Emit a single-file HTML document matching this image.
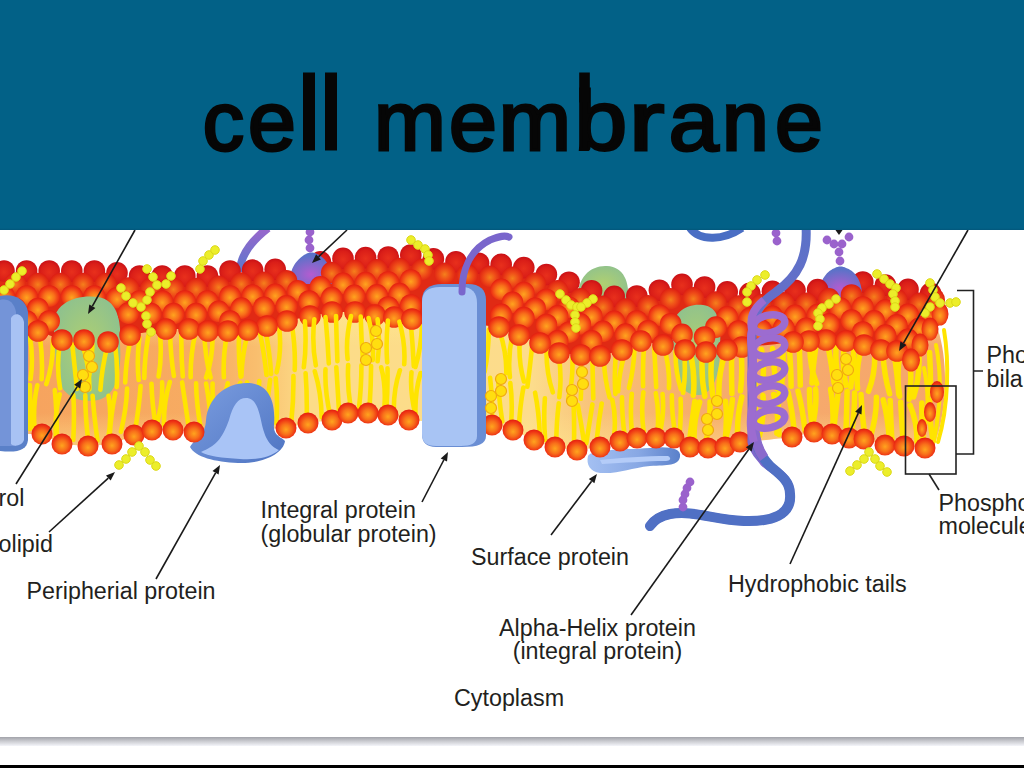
<!DOCTYPE html>
<html><head><meta charset="utf-8"><style>
html,body{margin:0;padding:0;background:#fff;width:1024px;height:768px;overflow:hidden}
#hdr{position:absolute;left:0;top:0;width:1024px;height:230px;background:linear-gradient(#026187 0,#026187 228px,#02567B 230px);}
#bar{position:absolute;left:0;top:737px;width:1024px;height:9px;background:linear-gradient(#A2A3AA,#C9CACF 45%,#F4F5FA)}
#blk{position:absolute;left:0;top:765px;width:1024px;height:3px;background:#000}
svg{position:absolute;left:0;top:0}
</style></head><body>
<svg width="1024" height="768" viewBox="0 0 1024 768">
<defs>
<radialGradient id="sph" cx="50%" cy="55%" r="55%" fx="50%" fy="58%">
<stop offset="0" stop-color="#FFA41E"/><stop offset="0.45" stop-color="#F8701A"/><stop offset="0.82" stop-color="#EE3414"/><stop offset="1" stop-color="#E21E10"/></radialGradient>
<radialGradient id="sphr" cx="50%" cy="55%" r="55%">
<stop offset="0" stop-color="#E8301C"/><stop offset="0.7" stop-color="#DA1E18"/><stop offset="1" stop-color="#C81016"/></radialGradient>
<radialGradient id="sphm" cx="50%" cy="55%" r="55%">
<stop offset="0" stop-color="#F5801C"/><stop offset="0.5" stop-color="#EE4A18"/><stop offset="1" stop-color="#DC1C12"/></radialGradient>
<linearGradient id="tailbg" gradientUnits="userSpaceOnUse" x1="0" y1="0" x2="1024" y2="0">
<stop offset="0" stop-color="#F6A25E"/><stop offset="0.2" stop-color="#F7AC62"/><stop offset="0.25" stop-color="#F9BE6E"/><stop offset="0.3" stop-color="#FCDC88"/><stop offset="0.52" stop-color="#FCDC8C"/><stop offset="0.58" stop-color="#F8C27A"/><stop offset="0.68" stop-color="#F6AC6C"/><stop offset="1" stop-color="#F5A46C"/></linearGradient>
<linearGradient id="glow" x1="0" y1="0" x2="0" y2="1">
<stop offset="0" stop-color="#FFE890" stop-opacity="0.9"/><stop offset="0.3" stop-color="#FFE890" stop-opacity="0"/><stop offset="0.75" stop-color="#FFE890" stop-opacity="0"/><stop offset="1" stop-color="#FFE890" stop-opacity="0.6"/></linearGradient>
<linearGradient id="blueprot" x1="0" y1="0" x2="1" y2="1">
<stop offset="0" stop-color="#7C9EE0"/><stop offset="1" stop-color="#4E74C2"/></linearGradient>
<linearGradient id="surfprot" x1="0" y1="0" x2="1" y2="0">
<stop offset="0" stop-color="#A4C0F2"/><stop offset="0.55" stop-color="#88A8E4"/><stop offset="1" stop-color="#5A80CA"/></linearGradient>
<radialGradient id="glyco" cx="50%" cy="70%" r="60%">
<stop offset="0" stop-color="#B45CD0"/><stop offset="1" stop-color="#5C72C8"/></radialGradient>
<radialGradient id="green" cx="50%" cy="50%" r="60%">
<stop offset="0" stop-color="#B0D070"/><stop offset="1" stop-color="#8CC090"/></radialGradient>
<linearGradient id="stalk" x1="0" y1="1" x2="0" y2="0">
<stop offset="0" stop-color="#5A78CC"/><stop offset="1" stop-color="#9A66CC"/></linearGradient>
<linearGradient id="ribbon" x1="0" y1="0" x2="0" y2="1">
<stop offset="0" stop-color="#5A72C8"/><stop offset="1" stop-color="#8A64CC"/></linearGradient>
</defs><path d="M26.0,321.0 L30.0,321.0 L34.0,321.0 L38.0,321.0 L42.0,322.5 L46.0,324.0 L50.0,325.5 L54.0,327.0 L58.0,328.5 L62.0,330.0 L66.0,330.0 L70.0,330.0 L74.0,330.0 L78.0,330.0 L82.0,330.0 L86.0,330.2 L90.0,330.5 L94.0,330.8 L98.0,331.2 L102.0,331.5 L106.0,331.8 L110.0,331.4 L114.0,330.1 L118.0,328.8 L122.0,327.5 L126.0,326.3 L130.0,325.0 L134.0,324.3 L138.0,323.7 L142.0,323.0 L146.0,322.3 L150.0,321.7 L154.0,321.0 L158.0,320.3 L162.0,319.7 L166.0,319.0 L170.0,319.0 L174.0,319.0 L178.0,319.0 L182.0,319.0 L186.0,319.0 L190.0,319.1 L194.0,319.5 L198.0,319.9 L202.0,320.4 L206.0,320.8 L210.0,321.0 L214.0,321.0 L218.0,321.0 L222.0,321.0 L226.0,321.0 L230.0,320.9 L234.0,320.7 L238.0,320.5 L242.0,320.3 L246.0,320.1 L250.0,319.6 L254.0,318.7 L258.0,317.9 L262.0,317.1 L266.0,316.2 L270.0,315.2 L274.0,314.2 L278.0,313.2 L282.0,312.2 L286.0,311.2 L290.0,310.3 L294.0,309.5 L298.0,308.6 L302.0,307.7 L306.0,306.9 L310.0,306.0 L314.0,305.3 L318.0,304.5 L322.0,303.8 L326.0,303.1 L330.0,302.4 L334.0,302.0 L338.0,302.0 L342.0,302.0 L346.0,302.0 L350.0,302.0 L354.0,302.0 L358.0,302.4 L362.0,303.1 L366.0,303.6 L370.0,304.2 L374.0,304.9 L378.0,305.3 L382.0,305.7 L386.0,306.2 L390.0,306.6 L394.0,307.0 L398.0,307.4 L402.0,307.9 L406.0,308.3 L410.0,308.8 L414.0,309.2 L418.0,309.6 L422.0,310.1 L426.0,310.5 L430.0,310.9 L434.0,311.4 L438.0,311.8 L442.0,312.1 L446.0,312.4 L450.0,312.7 L454.0,312.9 L458.0,313.2 L462.0,313.5 L466.0,313.7 L470.0,314.0 L474.0,314.4 L478.0,314.9 L482.0,315.3 L486.0,315.7 L490.0,316.1 L494.0,316.6 L498.0,317.0 L502.0,318.5 L506.0,320.0 L510.0,321.6 L514.0,323.1 L518.0,324.6 L522.0,326.1 L526.0,327.7 L530.0,329.2 L534.0,330.7 L538.0,332.2 L542.0,334.1 L546.0,336.3 L550.0,338.6 L554.0,340.8 L558.0,343.0 L562.0,343.4 L566.0,343.7 L570.0,344.1 L574.0,344.5 L578.0,344.8 L582.0,345.1 L586.0,345.3 L590.0,345.5 L594.0,345.7 L598.0,345.9 L602.0,345.5 L606.0,344.4 L610.0,343.3 L614.0,342.2 L618.0,341.1 L622.0,340.0 L626.0,338.1 L630.0,336.2 L634.0,334.3 L638.0,332.4 L642.0,331.2 L646.0,331.9 L650.0,332.6 L654.0,333.4 L658.0,334.1 L662.0,334.8 L666.0,335.7 L670.0,336.6 L674.0,337.5 L678.0,338.4 L682.0,339.3 L686.0,340.1 L690.0,340.5 L694.0,340.9 L698.0,341.2 L702.0,341.6 L706.0,342.0 L710.0,341.6 L714.0,341.2 L718.0,340.9 L722.0,340.5 L726.0,340.1 L730.0,339.4 L734.0,338.6 L738.0,337.8 L742.0,337.0 L746.0,336.7 L750.0,336.4 L754.0,336.1 L758.0,335.8 L762.0,335.5 L766.0,335.2 L770.0,334.8 L774.0,334.3 L778.0,333.8 L782.0,333.3 L786.0,332.8 L790.0,332.4 L794.0,331.9 L798.0,331.7 L802.0,331.4 L806.0,331.2 L810.0,330.9 L814.0,330.7 L818.0,330.5 L822.0,330.2 L826.0,330.0 L830.0,330.2 L834.0,330.4 L838.0,330.6 L842.0,330.8 L846.0,331.0 L850.0,331.9 L854.0,332.8 L858.0,333.7 L862.0,334.6 L866.0,335.6 L870.0,336.8 L874.0,337.9 L878.0,339.1 L882.0,340.1 L886.0,340.3 L890.0,340.6 L894.0,340.8 L898.0,341.6 L902.0,344.1 L906.0,346.5 L910.0,349.0 L914.0,346.8 L918.0,344.5 L922.0,342.3 L926.0,340.0 L930.0,337.8 L938,330 C948,360 948,410 934,446 L930.0,446.0 L926.0,447.6 L922.0,447.7 L918.0,447.3 L914.0,447.0 L910.0,446.6 L906.0,446.2 L902.0,445.9 L898.0,445.7 L894.0,445.5 L890.0,445.3 L886.0,445.1 L882.0,444.1 L878.0,443.0 L874.0,441.9 L870.0,440.7 L866.0,439.6 L862.0,438.9 L858.0,438.6 L854.0,438.3 L850.0,438.1 L846.0,437.3 L842.0,436.4 L838.0,435.4 L834.0,434.5 L830.0,433.8 L826.0,433.3 L822.0,432.9 L818.0,432.4 L814.0,432.0 L810.0,432.9 L806.0,433.8 L802.0,434.7 L798.0,435.6 L794.0,436.5 L790.0,437.2 L786.0,437.7 L782.0,438.2 L778.0,438.6 L774.0,439.1 L770.0,439.5 L766.0,440.0 L762.0,440.3 L758.0,440.6 L754.0,440.9 L750.0,441.2 L746.0,441.5 L742.0,441.8 L738.0,442.7 L734.0,444.0 L730.0,445.3 L726.0,446.7 L722.0,447.2 L718.0,447.4 L714.0,447.6 L710.0,447.9 L706.0,447.9 L702.0,447.7 L698.0,447.4 L694.0,447.2 L690.0,447.0 L686.0,444.8 L682.0,442.5 L678.0,440.2 L674.0,438.0 L670.0,438.0 L666.0,438.0 L662.0,438.0 L658.0,438.0 L654.0,438.0 L650.0,438.0 L646.0,438.0 L642.0,438.0 L638.0,438.0 L634.0,438.5 L630.0,439.2 L626.0,439.9 L622.0,440.6 L618.0,441.6 L614.0,442.8 L610.0,444.0 L606.0,445.2 L602.0,446.4 L598.0,447.3 L594.0,447.8 L590.0,448.3 L586.0,448.8 L582.0,449.3 L578.0,449.9 L574.0,449.7 L570.0,449.4 L566.0,449.0 L562.0,448.7 L558.0,448.3 L554.0,448.0 L550.0,446.4 L546.0,444.8 L542.0,443.2 L538.0,441.6 L534.0,440.0 L530.0,438.1 L526.0,436.2 L522.0,434.3 L518.0,432.4 L514.0,430.5 L510.0,429.3 L506.0,428.3 L502.0,427.4 L498.0,426.4 L494.0,425.5 L490.0,424.9 L486.0,424.7 L482.0,424.5 L478.0,424.3 L474.0,424.1 L470.0,424.0 L466.0,423.8 L462.0,423.6 L458.0,423.4 L454.0,423.2 L450.0,423.0 L446.0,422.7 L442.0,422.4 L438.0,422.1 L434.0,421.8 L430.0,421.5 L426.0,421.2 L422.0,421.0 L418.0,420.7 L414.0,420.4 L410.0,420.1 L406.0,419.3 L402.0,418.3 L398.0,417.4 L394.0,416.4 L390.0,415.5 L386.0,414.8 L382.0,414.4 L378.0,414.0 L374.0,413.6 L370.0,413.2 L366.0,413.0 L362.0,413.0 L358.0,413.0 L354.0,413.0 L350.0,413.0 L346.0,413.9 L342.0,415.6 L338.0,417.4 L334.0,419.1 L330.0,420.2 L326.0,420.8 L322.0,421.2 L318.0,421.8 L314.0,422.2 L310.0,422.8 L306.0,423.5 L302.0,424.4 L298.0,425.3 L294.0,426.2 L290.0,427.1 L286.0,428.0 L282.0,428.2 L278.0,428.3 L274.0,428.5 L270.0,428.7 L266.0,428.9 L262.0,429.0 L258.0,429.2 L254.0,429.4 L250.0,429.6 L246.0,429.7 L242.0,429.9 L238.0,430.1 L234.0,430.3 L230.0,430.4 L226.0,430.6 L222.0,430.8 L218.0,431.0 L214.0,431.1 L210.0,431.3 L206.0,431.5 L202.0,431.7 L198.0,431.8 L194.0,432.0 L190.0,431.6 L186.0,431.2 L182.0,430.9 L178.0,430.5 L174.0,430.1 L170.0,430.0 L166.0,430.0 L162.0,430.0 L158.0,430.0 L154.0,430.0 L150.0,430.6 L146.0,431.7 L142.0,432.8 L138.0,433.9 L134.0,435.0 L130.0,436.6 L126.0,438.3 L122.0,439.9 L118.0,441.5 L114.0,443.2 L110.0,444.2 L106.0,444.5 L102.0,444.8 L98.0,445.2 L94.0,445.5 L90.0,445.8 L86.0,445.8 L82.0,445.5 L78.0,445.2 L74.0,444.9 L70.0,444.6 L66.0,444.3 L62.0,444.0 L58.0,442.0 L54.0,440.0 L50.0,438.0 L46.0,436.0 L42.0,434.0 L38.0,434.0 L34.0,434.0 L30.0,434.0 L26.0,434.0 Z" fill="url(#tailbg)"/><path d="M26.0,321.0 L30.0,321.0 L34.0,321.0 L38.0,321.0 L42.0,322.5 L46.0,324.0 L50.0,325.5 L54.0,327.0 L58.0,328.5 L62.0,330.0 L66.0,330.0 L70.0,330.0 L74.0,330.0 L78.0,330.0 L82.0,330.0 L86.0,330.2 L90.0,330.5 L94.0,330.8 L98.0,331.2 L102.0,331.5 L106.0,331.8 L110.0,331.4 L114.0,330.1 L118.0,328.8 L122.0,327.5 L126.0,326.3 L130.0,325.0 L134.0,324.3 L138.0,323.7 L142.0,323.0 L146.0,322.3 L150.0,321.7 L154.0,321.0 L158.0,320.3 L162.0,319.7 L166.0,319.0 L170.0,319.0 L174.0,319.0 L178.0,319.0 L182.0,319.0 L186.0,319.0 L190.0,319.1 L194.0,319.5 L198.0,319.9 L202.0,320.4 L206.0,320.8 L210.0,321.0 L214.0,321.0 L218.0,321.0 L222.0,321.0 L226.0,321.0 L230.0,320.9 L234.0,320.7 L238.0,320.5 L242.0,320.3 L246.0,320.1 L250.0,319.6 L254.0,318.7 L258.0,317.9 L262.0,317.1 L266.0,316.2 L270.0,315.2 L274.0,314.2 L278.0,313.2 L282.0,312.2 L286.0,311.2 L290.0,310.3 L294.0,309.5 L298.0,308.6 L302.0,307.7 L306.0,306.9 L310.0,306.0 L314.0,305.3 L318.0,304.5 L322.0,303.8 L326.0,303.1 L330.0,302.4 L334.0,302.0 L338.0,302.0 L342.0,302.0 L346.0,302.0 L350.0,302.0 L354.0,302.0 L358.0,302.4 L362.0,303.1 L366.0,303.6 L370.0,304.2 L374.0,304.9 L378.0,305.3 L382.0,305.7 L386.0,306.2 L390.0,306.6 L394.0,307.0 L398.0,307.4 L402.0,307.9 L406.0,308.3 L410.0,308.8 L414.0,309.2 L418.0,309.6 L422.0,310.1 L426.0,310.5 L430.0,310.9 L434.0,311.4 L438.0,311.8 L442.0,312.1 L446.0,312.4 L450.0,312.7 L454.0,312.9 L458.0,313.2 L462.0,313.5 L466.0,313.7 L470.0,314.0 L474.0,314.4 L478.0,314.9 L482.0,315.3 L486.0,315.7 L490.0,316.1 L494.0,316.6 L498.0,317.0 L502.0,318.5 L506.0,320.0 L510.0,321.6 L514.0,323.1 L518.0,324.6 L522.0,326.1 L526.0,327.7 L530.0,329.2 L534.0,330.7 L538.0,332.2 L542.0,334.1 L546.0,336.3 L550.0,338.6 L554.0,340.8 L558.0,343.0 L562.0,343.4 L566.0,343.7 L570.0,344.1 L574.0,344.5 L578.0,344.8 L582.0,345.1 L586.0,345.3 L590.0,345.5 L594.0,345.7 L598.0,345.9 L602.0,345.5 L606.0,344.4 L610.0,343.3 L614.0,342.2 L618.0,341.1 L622.0,340.0 L626.0,338.1 L630.0,336.2 L634.0,334.3 L638.0,332.4 L642.0,331.2 L646.0,331.9 L650.0,332.6 L654.0,333.4 L658.0,334.1 L662.0,334.8 L666.0,335.7 L670.0,336.6 L674.0,337.5 L678.0,338.4 L682.0,339.3 L686.0,340.1 L690.0,340.5 L694.0,340.9 L698.0,341.2 L702.0,341.6 L706.0,342.0 L710.0,341.6 L714.0,341.2 L718.0,340.9 L722.0,340.5 L726.0,340.1 L730.0,339.4 L734.0,338.6 L738.0,337.8 L742.0,337.0 L746.0,336.7 L750.0,336.4 L754.0,336.1 L758.0,335.8 L762.0,335.5 L766.0,335.2 L770.0,334.8 L774.0,334.3 L778.0,333.8 L782.0,333.3 L786.0,332.8 L790.0,332.4 L794.0,331.9 L798.0,331.7 L802.0,331.4 L806.0,331.2 L810.0,330.9 L814.0,330.7 L818.0,330.5 L822.0,330.2 L826.0,330.0 L830.0,330.2 L834.0,330.4 L838.0,330.6 L842.0,330.8 L846.0,331.0 L850.0,331.9 L854.0,332.8 L858.0,333.7 L862.0,334.6 L866.0,335.6 L870.0,336.8 L874.0,337.9 L878.0,339.1 L882.0,340.1 L886.0,340.3 L890.0,340.6 L894.0,340.8 L898.0,341.6 L902.0,344.1 L906.0,346.5 L910.0,349.0 L914.0,346.8 L918.0,344.5 L922.0,342.3 L926.0,340.0 L930.0,337.8 L938,330 C948,360 948,410 934,446 L930.0,446.0 L926.0,447.6 L922.0,447.7 L918.0,447.3 L914.0,447.0 L910.0,446.6 L906.0,446.2 L902.0,445.9 L898.0,445.7 L894.0,445.5 L890.0,445.3 L886.0,445.1 L882.0,444.1 L878.0,443.0 L874.0,441.9 L870.0,440.7 L866.0,439.6 L862.0,438.9 L858.0,438.6 L854.0,438.3 L850.0,438.1 L846.0,437.3 L842.0,436.4 L838.0,435.4 L834.0,434.5 L830.0,433.8 L826.0,433.3 L822.0,432.9 L818.0,432.4 L814.0,432.0 L810.0,432.9 L806.0,433.8 L802.0,434.7 L798.0,435.6 L794.0,436.5 L790.0,437.2 L786.0,437.7 L782.0,438.2 L778.0,438.6 L774.0,439.1 L770.0,439.5 L766.0,440.0 L762.0,440.3 L758.0,440.6 L754.0,440.9 L750.0,441.2 L746.0,441.5 L742.0,441.8 L738.0,442.7 L734.0,444.0 L730.0,445.3 L726.0,446.7 L722.0,447.2 L718.0,447.4 L714.0,447.6 L710.0,447.9 L706.0,447.9 L702.0,447.7 L698.0,447.4 L694.0,447.2 L690.0,447.0 L686.0,444.8 L682.0,442.5 L678.0,440.2 L674.0,438.0 L670.0,438.0 L666.0,438.0 L662.0,438.0 L658.0,438.0 L654.0,438.0 L650.0,438.0 L646.0,438.0 L642.0,438.0 L638.0,438.0 L634.0,438.5 L630.0,439.2 L626.0,439.9 L622.0,440.6 L618.0,441.6 L614.0,442.8 L610.0,444.0 L606.0,445.2 L602.0,446.4 L598.0,447.3 L594.0,447.8 L590.0,448.3 L586.0,448.8 L582.0,449.3 L578.0,449.9 L574.0,449.7 L570.0,449.4 L566.0,449.0 L562.0,448.7 L558.0,448.3 L554.0,448.0 L550.0,446.4 L546.0,444.8 L542.0,443.2 L538.0,441.6 L534.0,440.0 L530.0,438.1 L526.0,436.2 L522.0,434.3 L518.0,432.4 L514.0,430.5 L510.0,429.3 L506.0,428.3 L502.0,427.4 L498.0,426.4 L494.0,425.5 L490.0,424.9 L486.0,424.7 L482.0,424.5 L478.0,424.3 L474.0,424.1 L470.0,424.0 L466.0,423.8 L462.0,423.6 L458.0,423.4 L454.0,423.2 L450.0,423.0 L446.0,422.7 L442.0,422.4 L438.0,422.1 L434.0,421.8 L430.0,421.5 L426.0,421.2 L422.0,421.0 L418.0,420.7 L414.0,420.4 L410.0,420.1 L406.0,419.3 L402.0,418.3 L398.0,417.4 L394.0,416.4 L390.0,415.5 L386.0,414.8 L382.0,414.4 L378.0,414.0 L374.0,413.6 L370.0,413.2 L366.0,413.0 L362.0,413.0 L358.0,413.0 L354.0,413.0 L350.0,413.0 L346.0,413.9 L342.0,415.6 L338.0,417.4 L334.0,419.1 L330.0,420.2 L326.0,420.8 L322.0,421.2 L318.0,421.8 L314.0,422.2 L310.0,422.8 L306.0,423.5 L302.0,424.4 L298.0,425.3 L294.0,426.2 L290.0,427.1 L286.0,428.0 L282.0,428.2 L278.0,428.3 L274.0,428.5 L270.0,428.7 L266.0,428.9 L262.0,429.0 L258.0,429.2 L254.0,429.4 L250.0,429.6 L246.0,429.7 L242.0,429.9 L238.0,430.1 L234.0,430.3 L230.0,430.4 L226.0,430.6 L222.0,430.8 L218.0,431.0 L214.0,431.1 L210.0,431.3 L206.0,431.5 L202.0,431.7 L198.0,431.8 L194.0,432.0 L190.0,431.6 L186.0,431.2 L182.0,430.9 L178.0,430.5 L174.0,430.1 L170.0,430.0 L166.0,430.0 L162.0,430.0 L158.0,430.0 L154.0,430.0 L150.0,430.6 L146.0,431.7 L142.0,432.8 L138.0,433.9 L134.0,435.0 L130.0,436.6 L126.0,438.3 L122.0,439.9 L118.0,441.5 L114.0,443.2 L110.0,444.2 L106.0,444.5 L102.0,444.8 L98.0,445.2 L94.0,445.5 L90.0,445.8 L86.0,445.8 L82.0,445.5 L78.0,445.2 L74.0,444.9 L70.0,444.6 L66.0,444.3 L62.0,444.0 L58.0,442.0 L54.0,440.0 L50.0,438.0 L46.0,436.0 L42.0,434.0 L38.0,434.0 L34.0,434.0 L30.0,434.0 L26.0,434.0 Z" fill="url(#glow)"/><path d="M578,302 C576,276 592,265 607,266 C624,267 630,282 628,302 Z" fill="url(#green)"/><path d="M0.0,276.0 L5.0,276.0 L10.0,276.0 L15.0,276.0 L20.0,276.0 L25.0,276.0 L30.0,276.0 L35.0,276.0 L40.0,276.0 L45.0,276.0 L50.0,276.0 L55.0,276.0 L60.0,276.0 L65.0,276.0 L70.0,276.0 L75.0,276.0 L80.0,276.0 L85.0,276.0 L90.0,276.0 L95.0,276.0 L100.0,276.0 L105.0,276.0 L110.0,276.0 L115.0,277.2 L120.0,278.5 L125.0,279.8 L130.0,281.0 L135.0,281.0 L140.0,281.0 L145.0,281.0 L150.0,281.0 L155.0,281.0 L160.0,281.0 L165.0,281.0 L170.0,281.0 L175.0,281.0 L180.0,281.0 L185.0,281.0 L190.0,281.0 L195.0,281.0 L200.0,281.0 L205.0,281.0 L210.0,281.0 L215.0,279.8 L220.0,278.5 L225.0,277.2 L230.0,276.0 L235.0,275.8 L240.0,275.6 L245.0,275.4 L250.0,275.2 L255.0,275.1 L260.0,274.9 L265.0,274.7 L270.0,274.5 L275.0,274.3 L280.0,274.1 L285.0,273.6 L290.0,272.5 L295.0,271.4 L300.0,270.3 L305.0,269.2 L310.0,268.4 L315.0,267.6 L320.0,266.9 L325.0,266.1 L330.0,265.4 L335.0,264.6 L340.0,263.9 L345.0,263.1 L350.0,262.9 L355.0,262.8 L360.0,262.7 L365.0,262.6 L370.0,262.5 L375.0,262.3 L380.0,262.2 L385.0,262.1 L390.0,262.0 L395.0,261.5 L400.0,261.0 L405.0,260.6 L410.0,260.1 L415.0,260.7 L420.0,261.5 L425.0,262.4 L430.0,263.3 L435.0,264.1 L440.0,265.0 L445.0,265.8 L450.0,266.3 L455.0,266.6 L460.0,266.9 L465.0,267.3 L470.0,267.6 L475.0,267.9 L480.0,268.3 L485.0,268.6 L490.0,268.9 L495.0,269.2 L500.0,269.4 L505.0,269.6 L510.0,269.8 L515.0,270.3 L520.0,271.6 L525.0,272.9 L530.0,274.2 L535.0,275.7 L540.0,277.3 L545.0,279.0 L550.0,280.7 L555.0,282.4 L560.0,284.1 L565.0,285.9 L570.0,287.6 L575.0,289.4 L580.0,291.3 L585.0,293.2 L590.0,295.1 L595.0,297.0 L600.0,298.1 L605.0,299.3 L610.0,300.4 L615.0,301.5 L620.0,301.9 L625.0,301.6 L630.0,301.4 L635.0,301.1 L640.0,300.2 L645.0,299.0 L650.0,297.8 L655.0,296.5 L660.0,294.9 L665.0,293.2 L670.0,291.4 L675.0,289.7 L680.0,289.3 L685.0,289.7 L690.0,290.1 L695.0,290.6 L700.0,291.0 L705.0,292.1 L710.0,293.3 L715.0,294.4 L720.0,295.5 L725.0,296.4 L730.0,297.2 L735.0,297.9 L740.0,298.7 L745.0,298.7 L750.0,298.3 L755.0,297.9 L760.0,297.4 L765.0,297.0 L770.0,296.6 L775.0,296.1 L780.0,295.7 L785.0,295.3 L790.0,295.1 L795.0,295.3 L800.0,295.5 L805.0,295.7 L810.0,295.9 L815.0,295.4 L820.0,293.9 L825.0,292.4 L830.0,291.0 L835.0,289.5 L840.0,288.0 L845.0,287.8 L850.0,287.6 L855.0,287.3 L860.0,287.1 L865.0,287.2 L870.0,287.8 L875.0,288.4 L880.0,289.0 L885.0,290.0 L890.0,291.0 L895.0,292.0 L900.0,293.0 L905.0,294.0 L910.0,294.7 L915.0,295.3 L920.0,296.0 L920.0,353.4 L915.0,356.2 L910.0,359.0 L905.0,355.9 L900.0,352.8 L895.0,350.9 L890.0,350.6 L885.0,350.2 L880.0,349.7 L875.0,348.2 L870.0,346.8 L865.0,345.3 L860.0,344.1 L855.0,343.0 L850.0,341.9 L845.0,340.9 L840.0,340.7 L835.0,340.4 L830.0,340.2 L825.0,340.1 L820.0,340.4 L815.0,340.6 L810.0,340.9 L805.0,341.2 L800.0,341.6 L795.0,341.9 L790.0,342.4 L785.0,343.0 L780.0,343.6 L775.0,344.2 L770.0,344.8 L765.0,345.2 L760.0,345.6 L755.0,346.0 L750.0,346.4 L745.0,346.8 L740.0,347.4 L735.0,348.4 L730.0,349.4 L725.0,350.2 L720.0,350.7 L715.0,351.1 L710.0,351.6 L705.0,351.9 L700.0,351.4 L695.0,351.0 L690.0,350.5 L685.0,350.0 L680.0,348.9 L675.0,347.7 L670.0,346.6 L665.0,345.5 L660.0,344.5 L655.0,343.5 L650.0,342.6 L645.0,341.7 L640.0,341.5 L635.0,343.8 L630.0,346.2 L625.0,348.6 L620.0,350.5 L615.0,351.9 L610.0,353.3 L605.0,354.6 L600.0,356.0 L595.0,355.8 L590.0,355.5 L585.0,355.2 L580.0,355.0 L575.0,354.5 L570.0,354.1 L565.0,353.6 L560.0,353.2 L555.0,351.3 L550.0,348.6 L545.0,345.8 L540.0,343.0 L535.0,341.1 L530.0,339.2 L525.0,337.3 L520.0,335.4 L515.0,333.5 L510.0,331.6 L505.0,329.7 L500.0,327.8 L495.0,326.7 L490.0,326.1 L485.0,325.6 L480.0,325.1 L475.0,324.5 L470.0,324.0 L465.0,323.7 L460.0,323.3 L455.0,323.0 L450.0,322.7 L445.0,322.3 L440.0,322.0 L435.0,321.5 L430.0,320.9 L425.0,320.4 L420.0,319.9 L415.0,319.3 L410.0,318.8 L405.0,318.2 L400.0,317.7 L395.0,317.1 L390.0,316.6 L385.0,316.1 L380.0,315.5 L375.0,315.0 L370.0,314.2 L365.0,313.5 L360.0,312.8 L355.0,312.0 L350.0,312.0 L345.0,312.0 L340.0,312.0 L335.0,312.0 L330.0,312.4 L325.0,313.3 L320.0,314.2 L315.0,315.1 L310.0,316.0 L305.0,317.1 L300.0,318.2 L295.0,319.3 L290.0,320.3 L285.0,321.5 L280.0,322.8 L275.0,324.0 L270.0,325.2 L265.0,326.4 L260.0,327.5 L255.0,328.5 L250.0,329.6 L245.0,330.1 L240.0,330.4 L235.0,330.6 L230.0,330.9 L225.0,331.0 L220.0,331.0 L215.0,331.0 L210.0,331.0 L205.0,330.7 L200.0,330.2 L195.0,329.6 L190.0,329.1 L185.0,329.0 L180.0,329.0 L175.0,329.0 L170.0,329.0 L165.0,329.2 L160.0,330.0 L155.0,330.8 L150.0,331.7 L145.0,332.5 L140.0,333.3 L135.0,334.2 L130.0,335.0 L125.0,336.6 L120.0,338.2 L115.0,339.8 L110.0,341.4 L105.0,341.8 L100.0,341.3 L95.0,340.9 L90.0,340.5 L85.0,340.1 L80.0,340.0 L75.0,340.0 L70.0,340.0 L65.0,340.0 L60.0,339.2 L55.0,337.4 L50.0,335.5 L45.0,333.6 L40.0,331.8 L35.0,331.0 L30.0,331.0 L25.0,331.0 L20.0,331.0 L15.0,331.0 L10.0,331.0 L5.0,331.0 L0.0,331.0 Z" fill="#E02A14"/><path d="M240,272 C240,256 250,242 268,228" stroke="url(#stalk)" stroke-width="8" fill="none"/><circle cx="410.8" cy="255.0" r="10.8" fill="url(#sphr)"/><circle cx="388.2" cy="257.0" r="10.8" fill="url(#sphr)"/><circle cx="365.6" cy="257.6" r="10.8" fill="url(#sphr)"/><circle cx="343.0" cy="258.4" r="10.8" fill="url(#sphr)"/><circle cx="433.4" cy="258.8" r="10.8" fill="url(#sphr)"/><circle cx="456.0" cy="261.7" r="10.8" fill="url(#sphr)"/><circle cx="320.4" cy="261.8" r="10.8" fill="url(#sphr)"/><circle cx="478.6" cy="263.2" r="10.8" fill="url(#sphr)"/><circle cx="501.2" cy="264.4" r="10.8" fill="url(#sphr)"/><path d="M290,284 C289,266 300,257 306,254 C309,252 314,252 317,254 C324,257 333,266 332,284 Z" fill="url(#glyco)"/><circle cx="523.8" cy="267.6" r="10.8" fill="url(#sphr)"/><circle cx="399.5" cy="268.6" r="10.8" fill="url(#sphm)"/><circle cx="275.2" cy="269.3" r="10.8" fill="url(#sphr)"/><circle cx="422.1" cy="269.4" r="10.8" fill="url(#sphm)"/><circle cx="376.9" cy="269.8" r="10.8" fill="url(#sphm)"/><circle cx="252.6" cy="270.1" r="10.8" fill="url(#sphr)"/><circle cx="354.3" cy="270.3" r="10.8" fill="url(#sphm)"/><circle cx="4.0" cy="271.0" r="10.8" fill="url(#sphr)"/><circle cx="26.6" cy="271.0" r="10.8" fill="url(#sphr)"/><circle cx="49.2" cy="271.0" r="10.8" fill="url(#sphr)"/><circle cx="71.8" cy="271.0" r="10.8" fill="url(#sphr)"/><circle cx="94.4" cy="271.0" r="10.8" fill="url(#sphr)"/><circle cx="230.0" cy="271.0" r="10.8" fill="url(#sphr)"/><circle cx="331.7" cy="272.6" r="10.8" fill="url(#sphm)"/><circle cx="117.0" cy="272.8" r="10.8" fill="url(#sphr)"/><circle cx="444.7" cy="273.3" r="10.8" fill="url(#sphm)"/><circle cx="546.4" cy="274.5" r="10.8" fill="url(#sphr)"/><circle cx="467.3" cy="274.9" r="10.8" fill="url(#sphm)"/><circle cx="139.6" cy="276.0" r="10.8" fill="url(#sphr)"/><circle cx="162.2" cy="276.0" r="10.8" fill="url(#sphr)"/><circle cx="184.8" cy="276.0" r="10.8" fill="url(#sphr)"/><circle cx="207.4" cy="276.0" r="10.8" fill="url(#sphr)"/><circle cx="489.9" cy="276.4" r="10.8" fill="url(#sphm)"/><circle cx="512.5" cy="277.4" r="10.8" fill="url(#sphm)"/><circle cx="410.8" cy="280.0" r="10.8" fill="url(#sph)"/><circle cx="286.5" cy="280.7" r="10.8" fill="url(#sphm)"/><circle cx="862.8" cy="282.0" r="10.8" fill="url(#sphr)"/><circle cx="388.2" cy="282.0" r="10.8" fill="url(#sph)"/><circle cx="263.9" cy="282.2" r="10.8" fill="url(#sphm)"/><circle cx="569.0" cy="282.2" r="10.8" fill="url(#sphr)"/><circle cx="365.6" cy="282.6" r="10.8" fill="url(#sph)"/><circle cx="241.3" cy="283.1" r="10.8" fill="url(#sphm)"/><circle cx="535.1" cy="283.2" r="10.8" fill="url(#sphm)"/><circle cx="343.0" cy="283.4" r="10.8" fill="url(#sph)"/><circle cx="15.3" cy="283.5" r="10.8" fill="url(#sphm)"/><circle cx="37.9" cy="283.5" r="10.8" fill="url(#sphm)"/><circle cx="60.5" cy="283.5" r="10.8" fill="url(#sphm)"/><circle cx="83.1" cy="283.5" r="10.8" fill="url(#sphm)"/><circle cx="105.7" cy="283.5" r="10.8" fill="url(#sphm)"/><circle cx="682.0" cy="284.4" r="10.8" fill="url(#sphr)"/><circle cx="885.4" cy="285.1" r="10.8" fill="url(#sphr)"/><circle cx="218.7" cy="286.3" r="10.8" fill="url(#sphm)"/><circle cx="320.4" cy="286.8" r="10.8" fill="url(#sph)"/><circle cx="704.6" cy="287.0" r="10.8" fill="url(#sphr)"/><circle cx="128.3" cy="288.1" r="10.8" fill="url(#sphm)"/><circle cx="150.9" cy="288.5" r="10.8" fill="url(#sphm)"/><circle cx="173.5" cy="288.5" r="10.8" fill="url(#sphm)"/><circle cx="196.1" cy="288.5" r="10.8" fill="url(#sphm)"/><path d="M819,298 C818,279 829,270 835,268 C838,266 843,266 846,268 C853,270 863,279 862,298 Z" fill="url(#glyco)"/><circle cx="908.0" cy="289.4" r="10.8" fill="url(#sphr)"/><circle cx="501.2" cy="289.4" r="10.8" fill="url(#sph)"/><circle cx="817.6" cy="289.6" r="10.8" fill="url(#sphr)"/><circle cx="659.4" cy="290.2" r="10.8" fill="url(#sphr)"/><circle cx="795.0" cy="290.3" r="10.8" fill="url(#sphr)"/><circle cx="591.6" cy="290.7" r="10.8" fill="url(#sphr)"/><circle cx="297.8" cy="290.8" r="10.8" fill="url(#sph)"/><circle cx="557.7" cy="290.8" r="10.8" fill="url(#sphm)"/><circle cx="772.4" cy="291.4" r="10.8" fill="url(#sphr)"/><circle cx="727.2" cy="291.8" r="10.8" fill="url(#sphr)"/><circle cx="523.8" cy="292.6" r="10.8" fill="url(#sph)"/><circle cx="749.8" cy="293.3" r="10.8" fill="url(#sphr)"/><circle cx="930.6" cy="293.4" r="10.8" fill="url(#sphr)"/><circle cx="399.5" cy="293.6" r="10.8" fill="url(#sph)"/><circle cx="275.2" cy="294.3" r="10.8" fill="url(#sph)"/><circle cx="376.9" cy="294.8" r="10.8" fill="url(#sph)"/><circle cx="851.5" cy="295.0" r="10.8" fill="url(#sphm)"/><circle cx="252.6" cy="295.1" r="10.8" fill="url(#sph)"/><circle cx="354.3" cy="295.3" r="10.8" fill="url(#sph)"/><circle cx="874.1" cy="295.8" r="10.8" fill="url(#sphm)"/><circle cx="4.0" cy="296.0" r="10.8" fill="url(#sph)"/><circle cx="26.6" cy="296.0" r="10.8" fill="url(#sph)"/><circle cx="49.2" cy="296.0" r="10.8" fill="url(#sph)"/><circle cx="71.8" cy="296.0" r="10.8" fill="url(#sph)"/><circle cx="94.4" cy="296.0" r="10.8" fill="url(#sph)"/><circle cx="230.0" cy="296.0" r="10.8" fill="url(#sph)"/><circle cx="636.8" cy="296.0" r="10.8" fill="url(#sphr)"/><circle cx="614.2" cy="296.4" r="10.8" fill="url(#sphr)"/><circle cx="331.7" cy="297.6" r="10.8" fill="url(#sph)"/><circle cx="117.0" cy="297.8" r="10.8" fill="url(#sph)"/><circle cx="693.3" cy="297.9" r="10.8" fill="url(#sphm)"/><circle cx="670.7" cy="298.7" r="10.8" fill="url(#sphm)"/><circle cx="828.9" cy="298.8" r="10.8" fill="url(#sphm)"/><circle cx="580.3" cy="298.9" r="10.8" fill="url(#sphm)"/><path d="M54,330 C50,302 78,294 98,297 C116,300 122,318 120,345 C122,372 116,396 98,400 C76,404 58,394 56,368 Z" fill="url(#green)"/><circle cx="546.4" cy="299.5" r="10.8" fill="url(#sph)"/><circle cx="896.7" cy="299.8" r="10.8" fill="url(#sphm)"/><circle cx="139.6" cy="301.0" r="10.8" fill="url(#sph)"/><circle cx="162.2" cy="301.0" r="10.8" fill="url(#sph)"/><circle cx="184.8" cy="301.0" r="10.8" fill="url(#sph)"/><circle cx="207.4" cy="301.0" r="10.8" fill="url(#sph)"/><circle cx="309.1" cy="301.0" r="10.8" fill="url(#sph)"/><circle cx="715.9" cy="302.1" r="10.8" fill="url(#sphm)"/><circle cx="512.5" cy="302.4" r="10.8" fill="url(#sph)"/><circle cx="783.7" cy="302.9" r="10.8" fill="url(#sphm)"/><path d="M672,335 C670,312 688,303 703,305 C718,307 722,322 720,345 C720,370 716,392 700,395 C682,396 674,380 674,360 Z" fill="url(#green)"/><circle cx="806.3" cy="303.2" r="10.8" fill="url(#sphm)"/><circle cx="919.3" cy="303.4" r="10.8" fill="url(#sphm)"/><circle cx="761.1" cy="304.8" r="10.8" fill="url(#sphm)"/><circle cx="410.8" cy="305.0" r="10.8" fill="url(#sph)"/><circle cx="648.1" cy="305.7" r="10.8" fill="url(#sphm)"/><circle cx="286.5" cy="305.7" r="10.8" fill="url(#sph)"/><circle cx="738.5" cy="306.0" r="10.8" fill="url(#sphm)"/><circle cx="602.9" cy="306.3" r="10.8" fill="url(#sphm)"/><circle cx="862.8" cy="307.0" r="10.8" fill="url(#sph)"/><circle cx="388.2" cy="307.0" r="10.8" fill="url(#sph)"/><circle cx="263.9" cy="307.2" r="10.8" fill="url(#sph)"/><circle cx="569.0" cy="307.2" r="10.8" fill="url(#sph)"/><circle cx="840.2" cy="308.0" r="10.8" fill="url(#sph)"/><circle cx="241.3" cy="308.1" r="10.8" fill="url(#sph)"/><circle cx="535.1" cy="308.2" r="10.8" fill="url(#sph)"/><circle cx="15.3" cy="308.5" r="10.8" fill="url(#sph)"/><circle cx="37.9" cy="308.5" r="10.8" fill="url(#sph)"/><circle cx="625.5" cy="309.1" r="10.8" fill="url(#sphm)"/><circle cx="885.4" cy="310.1" r="10.8" fill="url(#sph)"/><circle cx="218.7" cy="311.3" r="10.8" fill="url(#sph)"/><circle cx="128.3" cy="313.1" r="10.8" fill="url(#sph)"/><circle cx="150.9" cy="313.5" r="10.8" fill="url(#sph)"/><circle cx="173.5" cy="313.5" r="10.8" fill="url(#sph)"/><circle cx="196.1" cy="313.5" r="10.8" fill="url(#sph)"/><circle cx="908.0" cy="314.4" r="10.8" fill="url(#sph)"/><circle cx="501.2" cy="314.4" r="10.8" fill="url(#sph)"/><circle cx="817.6" cy="314.6" r="10.8" fill="url(#sph)"/><circle cx="659.4" cy="315.2" r="10.8" fill="url(#sph)"/><circle cx="795.0" cy="315.3" r="10.8" fill="url(#sph)"/><circle cx="591.6" cy="315.7" r="10.8" fill="url(#sph)"/><circle cx="557.7" cy="315.8" r="10.8" fill="url(#sph)"/><circle cx="772.4" cy="316.4" r="10.8" fill="url(#sph)"/><circle cx="727.2" cy="316.8" r="10.8" fill="url(#sph)"/><circle cx="523.8" cy="317.6" r="10.8" fill="url(#sph)"/><circle cx="749.8" cy="318.3" r="10.8" fill="url(#sph)"/><circle cx="930.6" cy="318.4" r="10.8" fill="url(#sph)"/><circle cx="851.5" cy="320.0" r="10.8" fill="url(#sph)"/><circle cx="874.1" cy="320.8" r="10.8" fill="url(#sph)"/><circle cx="4.0" cy="321.0" r="10.8" fill="url(#sph)"/><circle cx="26.6" cy="321.0" r="10.8" fill="url(#sph)"/><circle cx="49.2" cy="321.0" r="10.8" fill="url(#sph)"/><circle cx="230.0" cy="321.0" r="10.8" fill="url(#sph)"/><circle cx="636.8" cy="321.0" r="10.8" fill="url(#sph)"/><circle cx="614.2" cy="321.4" r="10.8" fill="url(#sph)"/><circle cx="670.7" cy="323.7" r="10.8" fill="url(#sph)"/><circle cx="828.9" cy="323.8" r="10.8" fill="url(#sph)"/><circle cx="580.3" cy="323.9" r="10.8" fill="url(#sph)"/><circle cx="546.4" cy="324.5" r="10.8" fill="url(#sph)"/><circle cx="896.7" cy="324.8" r="10.8" fill="url(#sph)"/><circle cx="715.9" cy="327.1" r="10.8" fill="url(#sph)"/><circle cx="783.7" cy="327.9" r="10.8" fill="url(#sph)"/><circle cx="806.3" cy="328.2" r="10.8" fill="url(#sph)"/><circle cx="919.3" cy="328.4" r="10.8" fill="url(#sph)"/><circle cx="761.1" cy="329.8" r="10.8" fill="url(#sph)"/><circle cx="648.1" cy="330.7" r="10.8" fill="url(#sph)"/><circle cx="738.5" cy="331.0" r="10.8" fill="url(#sph)"/><circle cx="602.9" cy="331.3" r="10.8" fill="url(#sph)"/><circle cx="332" cy="312" r="10.8" fill="url(#sph)"/><circle cx="355" cy="312" r="10.8" fill="url(#sph)"/><circle cx="862.8" cy="332.0" r="10.8" fill="url(#sph)"/><circle cx="569.0" cy="332.2" r="10.8" fill="url(#sph)"/><circle cx="625.5" cy="334.1" r="10.8" fill="url(#sph)"/><circle cx="682.0" cy="334.4" r="10.8" fill="url(#sph)"/><circle cx="375" cy="315" r="10.8" fill="url(#sph)"/><circle cx="885.4" cy="335.1" r="10.8" fill="url(#sph)"/><circle cx="310" cy="316" r="10.8" fill="url(#sph)"/><circle cx="394" cy="317" r="10.8" fill="url(#sph)"/><circle cx="704.6" cy="337.0" r="10.8" fill="url(#sph)"/><path d="M29.8,335.0 Q33.6,358.5 30.6,379.0 M29.8,385.0 Q30.5,405.5 29.9,429.0 M39.8,335.7 Q43.0,359.0 41.6,379.3 M37.3,385.3 Q32.7,405.7 34.6,429.0 M52.8,340.2 Q53.4,363.7 46.3,384.1 M54.8,390.1 Q56.8,410.6 56.9,434.0 M59.7,343.9 Q56.3,367.6 60.1,388.3 M59.7,394.3 Q54.2,415.1 56.1,438.8 M72.2,344.0 Q74.8,368.0 77.0,388.9 M73.3,394.9 Q74.6,415.9 73.3,439.8 M82.4,344.0 Q89.9,368.2 89.4,389.3 M85.3,395.3 Q85.3,416.5 88.2,440.6 M92.4,344.8 Q91.5,368.7 86.4,389.7 M92.6,395.7 Q94.1,416.6 97.5,440.6 M107.4,345.8 Q101.6,369.3 100.4,389.7 M108.5,395.7 Q112.1,416.1 108.1,439.5 M114.9,343.3 Q118.1,366.7 116.7,387.2 M115.3,393.2 Q111.0,413.6 109.5,437.1 M130.5,339.2 Q125.8,362.3 125.2,382.5 M127.1,388.5 Q126.4,408.7 120.9,431.8 M139.4,337.5 Q136.6,360.2 138.7,380.0 M140.6,386.0 Q139.2,405.8 135.4,428.6 M148.3,335.9 Q144.5,358.4 144.3,377.9 M151.5,383.9 Q152.0,403.4 155.7,425.9 M160.0,333.8 Q162.1,356.6 158.6,376.4 M162.1,382.4 Q163.2,402.2 156.5,425.0 M170.1,333.0 Q170.6,356.0 173.9,376.0 M169.8,382.0 Q163.6,402.0 163.9,425.0 M181.4,333.0 Q181.0,356.2 182.8,376.4 M182.1,382.4 Q185.2,402.7 188.5,425.9 M195.2,333.5 Q190.2,356.9 190.7,377.2 M196.1,383.2 Q196.4,403.6 200.6,427.0 M204.4,334.5 Q205.1,357.5 210.6,377.6 M206.1,383.6 Q209.7,403.6 211.5,426.6 M212.5,335.0 Q213.0,357.8 206.1,377.6 M212.6,383.6 Q212.1,403.3 215.4,426.1 M226.8,335.0 Q222.8,357.6 223.9,377.3 M227.7,383.3 Q222.6,402.9 221.7,425.6 M239.1,334.5 Q238.1,357.2 240.7,376.8 M240.2,382.8 Q234.2,402.5 236.0,425.1 M247.5,334.0 Q241.9,356.7 241.4,376.3 M247.0,382.3 Q244.5,402.0 248.0,424.7 M259.8,331.9 Q264.4,354.9 266.5,375.0 M259.3,381.0 Q257.1,401.1 260.5,424.2 M265.4,329.9 Q269.9,353.4 271.1,373.9 M270.1,379.9 Q267.8,400.3 263.4,423.8 M279.2,327.2 Q281.9,351.2 276.6,372.3 M275.7,378.3 Q277.9,399.3 276.4,423.3 M291.8,324.2 Q295.6,348.6 294.7,370.0 M293.4,376.0 Q293.8,397.5 291.3,421.9 M304.9,321.4 Q306.7,345.8 303.8,367.2 M305.6,373.2 Q307.2,394.6 306.7,419.0 M314.3,319.3 Q311.7,343.8 315.8,365.3 M314.8,371.3 Q321.3,392.8 321.7,417.3 M325.5,317.1 Q327.8,341.8 328.8,363.4 M325.5,369.4 Q324.6,391.1 330.3,415.8 M336.0,316.0 Q336.6,340.1 337.4,361.2 M336.3,367.2 Q337.7,388.3 339.1,412.4 M351.0,316.0 Q345.4,339.0 347.6,359.0 M348.2,365.0 Q347.0,385.0 350.7,408.0 M360.7,316.6 Q361.3,339.5 362.9,359.3 M361.4,365.3 Q361.5,385.2 359.0,408.0 M368.6,318.1 Q374.0,340.6 372.8,360.1 M371.1,366.1 Q371.0,385.6 369.5,408.1 M377.6,319.4 Q380.3,341.9 377.6,361.3 M381.2,367.3 Q386.3,386.7 384.2,409.1 M387.9,320.5 Q385.7,342.9 387.2,362.4 M387.5,368.4 Q387.9,387.8 386.3,410.3 M399.4,321.7 Q405.7,344.5 404.2,364.3 M399.9,370.3 Q393.2,390.1 393.9,412.9 M410.8,323.1 Q412.9,346.1 413.8,366.2 M411.5,372.2 Q409.7,392.2 415.6,415.3 M422.0,324.1 Q421.4,347.1 415.4,367.0 M420.6,373.0 Q414.5,393.0 415.6,416.0 M433.5,325.3 Q435.7,348.2 435.3,368.1 M435.6,374.1 Q440.3,393.9 442.0,416.8 M443.4,326.2 Q437.3,349.1 438.9,368.9 M443.4,374.9 Q442.3,394.7 446.4,417.5 M453.0,326.9 Q454.6,349.7 455.8,369.5 M454.3,375.5 Q455.3,395.4 457.9,418.2 M467.4,327.7 Q468.0,350.5 461.6,370.2 M467.1,376.2 Q464.2,396.0 461.9,418.8 M478.9,328.8 Q478.6,351.4 477.2,371.0 M479.6,377.0 Q485.2,396.7 483.7,419.3 M488.8,329.9 Q488.5,352.4 484.6,371.9 M490.1,377.9 Q492.8,397.3 492.0,419.8 M499.6,331.0 Q506.8,353.6 506.3,373.2 M498.2,379.2 Q498.8,398.8 502.3,421.4 M512.1,335.8 Q507.7,358.0 509.9,377.1 M510.3,383.1 Q512.8,402.3 511.0,424.4 M519.7,340.0 Q518.4,362.3 524.0,381.5 M523.4,387.5 Q519.8,406.8 518.8,429.1 M532.3,344.6 Q530.0,367.2 527.4,386.7 M535.1,392.7 Q539.0,412.3 539.8,434.9 M546.5,350.6 Q546.3,373.0 552.8,392.3 M544.9,398.3 Q543.4,417.7 545.2,440.0 M559.0,357.0 Q561.9,378.6 559.3,397.2 M558.8,403.2 Q556.5,421.8 556.2,443.4 M572.4,358.2 Q573.2,379.7 568.3,398.3 M573.6,404.3 Q574.4,422.9 574.0,444.5 M580.8,359.0 Q581.6,380.4 580.8,398.8 M577.8,404.8 Q581.2,423.2 584.4,444.5 M592.4,359.6 Q592.8,380.5 593.3,398.4 M592.4,404.4 Q589.6,422.2 586.3,443.1 M603.7,359.5 Q604.8,380.0 609.6,397.5 M601.7,403.5 Q598.6,420.9 596.5,441.4 M615.7,356.1 Q614.1,376.5 615.4,393.9 M612.3,399.9 Q616.5,417.4 613.9,437.8 M624.8,353.2 Q619.0,373.7 618.1,391.3 M622.0,397.3 Q621.9,414.8 624.6,435.4 M634.6,348.3 Q633.6,369.6 629.0,387.9 M631.8,393.9 Q629.9,412.2 632.0,433.5 M644.0,345.5 Q642.6,367.4 643.1,386.3 M643.4,392.3 Q640.8,411.1 643.8,433.0 M654.2,347.3 Q655.4,368.7 656.2,387.2 M655.8,393.2 Q659.4,411.6 657.4,433.0 M664.6,349.1 Q670.0,370.1 668.9,388.1 M662.5,394.1 Q664.6,412.0 659.9,433.0 M675.5,351.4 Q675.3,371.8 680.9,389.2 M671.9,395.2 Q671.6,412.6 675.1,433.0 M684.2,353.5 Q686.0,374.6 683.1,392.8 M680.6,398.8 Q681.4,416.9 679.3,438.0" stroke="#FFE400" stroke-width="4.6" fill="none" stroke-linecap="round"/><path d="M690.8,354.7 Q695.3,376.5 693.3,395.4 M694.8,401.4 Q692.1,420.2 689.4,442.1 M702.2,355.6 Q701.1,377.4 704.8,396.2 M699.7,402.2 Q693.2,420.9 694.1,442.7 M711.9,355.4 Q709.6,377.3 712.9,396.1 M710.0,402.1 Q710.6,420.9 705.8,442.8 M724.6,354.4 Q718.2,376.3 718.9,395.3 M725.6,401.3 Q727.4,420.2 725.0,442.1 M731.7,353.0 Q731.3,374.7 731.9,393.4 M732.4,399.4 Q730.6,418.0 725.6,439.7 M741.1,351.0 Q742.7,372.4 740.5,390.9 M741.8,396.9 Q737.0,415.4 737.5,436.8 M750.0,350.2 Q755.1,371.7 755.5,390.2 M753.1,396.2 Q756.7,414.6 758.2,436.1 M761.5,349.5 Q765.4,371.0 761.6,389.5 M763.0,395.5 Q764.5,413.9 759.6,435.4 M772.5,348.6 Q773.9,370.0 776.9,388.5 M773.7,394.5 Q778.0,412.9 779.1,434.4 M782.7,347.4 Q783.8,368.8 781.4,387.3 M779.1,393.3 Q777.7,411.7 776.9,433.2 M789.1,346.4 Q791.1,367.9 791.1,386.3 M788.1,392.3 Q792.5,410.8 794.3,432.3 M799.3,345.6 Q800.1,366.9 800.3,385.1 M798.0,391.1 Q802.7,409.3 805.0,430.5 M809.9,345.0 Q809.4,365.8 816.6,383.6 M809.5,389.6 Q809.2,407.4 812.8,428.2 M816.2,344.5 Q813.1,365.2 811.9,383.0 M815.6,389.0 Q817.1,406.7 812.1,427.4 M827.7,344.1 Q831.5,365.2 834.2,383.3 M830.6,389.3 Q834.1,407.4 832.6,428.5 M836.3,344.5 Q834.5,365.8 839.9,384.2 M838.5,390.2 Q835.9,408.6 833.7,429.9 M844.4,344.9 Q841.6,366.7 845.9,385.4 M847.1,391.4 Q846.7,410.2 846.0,431.9 M853.7,346.8 Q853.4,368.5 850.7,387.1 M854.6,393.1 Q854.8,411.7 851.5,433.3 M861.1,348.8 Q855.7,370.1 857.6,388.4 M861.0,394.4 Q861.9,412.7 864.6,433.9 M874.8,351.9 Q875.5,373.1 868.5,391.3 M876.4,397.3 Q876.7,415.6 870.5,436.8 M883.0,354.1 Q884.2,375.5 889.6,393.8 M883.2,399.8 Q888.0,418.1 889.3,439.4 M894.4,354.7 Q897.4,376.1 898.8,394.6 M890.2,400.6 Q890.7,419.0 891.9,440.4 M899.3,357.5 Q896.5,378.3 899.7,396.2 M900.7,402.2 Q901.6,420.0 903.1,440.8 M910.2,362.9 Q911.9,382.6 909.1,399.2 M910.0,405.2 Q917.2,421.9 917.0,441.6 M919.0,357.4 Q919.5,378.7 913.6,396.9 M921.8,402.9 Q921.5,421.2 923.5,442.5 M929.6,352.4 Q930.8,374.7 930.5,393.9 M929.7,399.9 Q929.0,419.2 933.2,441.4" stroke="#FFE400" stroke-width="5.5" fill="none" stroke-linecap="round"/><circle cx="412" cy="319" r="10.8" fill="url(#sph)"/><circle cx="908.0" cy="339.4" r="10.8" fill="url(#sph)"/><circle cx="591.6" cy="340.7" r="10.8" fill="url(#sph)"/><circle cx="557.7" cy="340.8" r="10.8" fill="url(#sph)"/><circle cx="287" cy="321" r="10.8" fill="url(#sph)"/><circle cx="267" cy="326" r="10.8" fill="url(#sph)"/><circle cx="499" cy="327" r="10.8" fill="url(#sph)"/><circle cx="166" cy="329" r="10.8" fill="url(#sph)"/><circle cx="189" cy="329" r="10.8" fill="url(#sph)"/><circle cx="248" cy="330" r="10.8" fill="url(#sph)"/><circle cx="38" cy="331" r="10.8" fill="url(#sph)"/><circle cx="208" cy="331" r="10.8" fill="url(#sph)"/><circle cx="228" cy="331" r="10.8" fill="url(#sph)"/><circle cx="130" cy="335" r="10.8" fill="url(#sph)"/><circle cx="519" cy="335" r="10.8" fill="url(#sph)"/><circle cx="62" cy="340" r="10.8" fill="url(#sph)"/><circle cx="84" cy="340" r="10.8" fill="url(#sph)"/><circle cx="826" cy="340" r="10.8" fill="url(#sph)"/><circle cx="641" cy="341" r="10.8" fill="url(#sph)"/><circle cx="809" cy="341" r="10.8" fill="url(#sph)"/><circle cx="846" cy="341" r="10.8" fill="url(#sph)"/><circle cx="108" cy="342" r="10.8" fill="url(#sph)"/><circle cx="793" cy="342" r="10.8" fill="url(#sph)"/><circle cx="540" cy="343" r="10.8" fill="url(#sph)"/><circle cx="663" cy="345" r="10.8" fill="url(#sph)"/><circle cx="864" cy="345" r="10.8" fill="url(#sph)"/><circle cx="742" cy="347" r="10.8" fill="url(#sph)"/><circle cx="622" cy="350" r="10.8" fill="url(#sph)"/><circle cx="685" cy="350" r="10.8" fill="url(#sph)"/><circle cx="727" cy="350" r="10.8" fill="url(#sph)"/><circle cx="881" cy="350" r="10.8" fill="url(#sph)"/><circle cx="897" cy="351" r="10.8" fill="url(#sph)"/><circle cx="706" cy="352" r="10.8" fill="url(#sph)"/><circle cx="559" cy="353" r="10.8" fill="url(#sph)"/><circle cx="581" cy="355" r="10.8" fill="url(#sph)"/><circle cx="600" cy="356" r="10.8" fill="url(#sph)"/><ellipse cx="936" cy="300" rx="9" ry="11" fill="url(#sphm)"/><ellipse cx="940" cy="314" rx="8.5" ry="11.5" fill="url(#sph)"/><ellipse cx="930" cy="329" rx="8.5" ry="11.5" fill="url(#sph)"/><ellipse cx="920" cy="345" rx="8.5" ry="11.5" fill="url(#sph)"/><ellipse cx="911" cy="360" rx="9" ry="11.5" fill="url(#sph)"/><path d="M944,330 C949,360 949,405 938,442 M936,345 C941,370 942,400 934,440 M924,368 C928,388 930,410 922,440" stroke="#FFE400" stroke-width="4" fill="none" stroke-linecap="round"/><ellipse cx="937" cy="392" rx="7" ry="11" fill="url(#sph)"/><ellipse cx="930" cy="412" rx="6" ry="10" fill="url(#sph)"/><ellipse cx="922" cy="428" rx="5" ry="9" fill="url(#sph)"/><path d="M588,456 C592,449 620,450 650,448 C668,446 682,448 680,457 C678,466 668,465 650,466 C630,468 620,474 600,473 C590,472 586,464 588,456 Z" fill="url(#surfprot)"/><path d="M600,460 C620,458 645,456 668,456 C672,458 670,461 666,461 C645,461 625,463 602,464 Z" fill="#B4CCF8"/><path d="M190,447 C195,438 205,437 206,420 C208,398 225,383 247,383 C268,383 276,400 274,425 C273,436 282,437 285,441 C283,455 260,464 238,463 C215,462 195,457 190,447 Z" fill="url(#blueprot)"/><path d="M201,452 C215,446 222,440 229,420 C233,405 238,398 246,398 C256,398 259,410 262,425 C266,442 272,447 279,450 C270,458 255,460 240,459 C222,458 208,456 201,452 Z" fill="#A9C4F6"/><circle cx="42" cy="434" r="10.5" fill="url(#sph)"/><circle cx="62" cy="444" r="10.5" fill="url(#sph)"/><circle cx="88" cy="446" r="10.5" fill="url(#sph)"/><circle cx="112" cy="444" r="10.5" fill="url(#sph)"/><circle cx="134" cy="435" r="10.5" fill="url(#sph)"/><circle cx="152" cy="430" r="10.5" fill="url(#sph)"/><circle cx="173" cy="430" r="10.5" fill="url(#sph)"/><circle cx="194" cy="432" r="10.5" fill="url(#sph)"/><circle cx="286" cy="428" r="10.5" fill="url(#sph)"/><circle cx="308" cy="423" r="10.5" fill="url(#sph)"/><circle cx="332" cy="420" r="10.5" fill="url(#sph)"/><circle cx="348" cy="413" r="10.5" fill="url(#sph)"/><circle cx="368" cy="413" r="10.5" fill="url(#sph)"/><circle cx="388" cy="415" r="10.5" fill="url(#sph)"/><circle cx="409" cy="420" r="10.5" fill="url(#sph)"/><circle cx="492" cy="425" r="10.5" fill="url(#sph)"/><circle cx="513" cy="430" r="10.5" fill="url(#sph)"/><circle cx="534" cy="440" r="10.5" fill="url(#sph)"/><circle cx="555" cy="447" r="10.5" fill="url(#sph)"/><circle cx="577" cy="450" r="10.5" fill="url(#sph)"/><circle cx="600" cy="447" r="10.5" fill="url(#sph)"/><circle cx="620" cy="441" r="10.5" fill="url(#sph)"/><circle cx="637" cy="438" r="10.5" fill="url(#sph)"/><circle cx="656" cy="438" r="10.5" fill="url(#sph)"/><circle cx="674" cy="438" r="10.5" fill="url(#sph)"/><circle cx="690" cy="447" r="10.5" fill="url(#sph)"/><circle cx="708" cy="448" r="10.5" fill="url(#sph)"/><circle cx="725" cy="447" r="10.5" fill="url(#sph)"/><circle cx="740" cy="442" r="10.5" fill="url(#sph)"/><circle cx="792" cy="437" r="10.5" fill="url(#sph)"/><circle cx="814" cy="432" r="10.5" fill="url(#sph)"/><circle cx="832" cy="434" r="10.5" fill="url(#sph)"/><circle cx="849" cy="438" r="10.5" fill="url(#sph)"/><circle cx="864" cy="439" r="10.5" fill="url(#sph)"/><circle cx="885" cy="445" r="10.5" fill="url(#sph)"/><circle cx="904" cy="446" r="10.5" fill="url(#sph)"/><circle cx="925" cy="448" r="10.5" fill="url(#sph)"/><path d="M0,296 C12,293 26,298 28,312 L28,440 C27,450 18,453 0,451 Z" fill="#5A80C8"/><path d="M0,300 C8,298 14,302 16,312 L16,446 L0,446 Z" fill="#7494D8"/><path d="M11,318 C14,312 22,313 24,322 L24,440 C22,446 14,447 11,444 Z" fill="#A8C2F4"/><path d="M422,300 C422,289 430,284 442,284 L468,284 C480,284 486,290 486,300 L486,436 C486,444 478,447 462,447 L436,447 C426,447 422,442 422,434 Z" fill="#6A8ED4"/><path d="M422,302 C422,292 428,287 440,287 L462,287 C472,287 477,293 477,303 L477,436 C477,443 471,446 461,446 L436,446 C426,446 422,442 422,434 Z" fill="#A8C4F4"/><path d="M806,226 C808,258 798,276 776,292 C758,304 752,316 752,340 L752,442 C754,452 760,456 764,462 C772,470 790,476 790,494 C792,515 772,522 744,521 C714,520 694,510 670,514 C660,516 654,520 650,526" stroke="url(#ribbon)" stroke-width="9" fill="none" stroke-linecap="round"/><path d="M754,432 C756,448 762,458 770,466 C782,476 790,482 790,494 C792,515 772,522 744,521 C714,520 694,510 670,514 C660,516 654,520 650,526" stroke="#5070C4" stroke-width="10" fill="none" stroke-linecap="round"/><path d="M754,425 C755,440 758,450 764,458" stroke="#8A6ACC" stroke-width="10" fill="none"/><ellipse cx="769" cy="324" rx="16" ry="8.8" fill="none" stroke="#9C6CD0" stroke-width="7.5" transform="rotate(-12 769 324)"/><ellipse cx="769" cy="347" rx="16" ry="8.8" fill="none" stroke="#9C6CD0" stroke-width="7.5" transform="rotate(-12 769 347)"/><ellipse cx="769" cy="371" rx="16" ry="8.8" fill="none" stroke="#9C6CD0" stroke-width="7.5" transform="rotate(-12 769 371)"/><ellipse cx="769" cy="395" rx="16" ry="8.8" fill="none" stroke="#9C6CD0" stroke-width="7.5" transform="rotate(-12 769 395)"/><ellipse cx="769" cy="419" rx="16" ry="8.8" fill="none" stroke="#9C6CD0" stroke-width="7.5" transform="rotate(-12 769 419)"/><path d="M764,300 C752,310 750,318 752,330 C748,345 756,355 752,370 C748,385 756,395 752,410 C749,425 752,435 754,442" stroke="#9C6CD0" stroke-width="8" fill="none"/><path d="M690,228 C700,242 724,240 742,228" stroke="#4A6EC4" stroke-width="8" fill="none"/><path d="M462,292 C462,270 470,250 490,240 C500,236 505,235 509,237" stroke="#7A66CC" stroke-width="7" fill="none" stroke-linecap="round"/><circle cx="310" cy="248" r="4.4" fill="#9A62CC"/><circle cx="309" cy="240" r="4.4" fill="#9A62CC"/><circle cx="310" cy="232" r="4.4" fill="#9A62CC"/><circle cx="840" cy="261" r="4.4" fill="#9A62CC"/><circle cx="839" cy="252" r="4.4" fill="#9A62CC"/><circle cx="834" cy="244" r="4.4" fill="#9A62CC"/><circle cx="827" cy="240" r="4.4" fill="#9A62CC"/><circle cx="842" cy="244" r="4.4" fill="#9A62CC"/><circle cx="849" cy="237" r="4.4" fill="#9A62CC"/><circle cx="776" cy="233" r="4.4" fill="#9A62CC"/><circle cx="777" cy="241" r="4.4" fill="#9A62CC"/><circle cx="683" cy="507" r="4.4" fill="#9A62CC"/><circle cx="683" cy="500" r="4.4" fill="#9A62CC"/><circle cx="685" cy="494" r="4.4" fill="#9A62CC"/><circle cx="687" cy="488" r="4.4" fill="#9A62CC"/><circle cx="690" cy="482" r="4.4" fill="#9A62CC"/><circle cx="4" cy="290" r="4.3" fill="#ECEE2A" stroke="#DCD818" stroke-width="1"/><circle cx="10" cy="284" r="4.3" fill="#ECEE2A" stroke="#DCD818" stroke-width="1"/><circle cx="16" cy="277" r="4.3" fill="#ECEE2A" stroke="#DCD818" stroke-width="1"/><circle cx="22" cy="271" r="4.3" fill="#ECEE2A" stroke="#DCD818" stroke-width="1"/><circle cx="147" cy="269" r="4.3" fill="#ECEE2A" stroke="#DCD818" stroke-width="1"/><circle cx="153" cy="277" r="4.3" fill="#ECEE2A" stroke="#DCD818" stroke-width="1"/><circle cx="157" cy="285" r="4.3" fill="#ECEE2A" stroke="#DCD818" stroke-width="1"/><circle cx="150" cy="292" r="4.3" fill="#ECEE2A" stroke="#DCD818" stroke-width="1"/><circle cx="147" cy="300" r="4.3" fill="#ECEE2A" stroke="#DCD818" stroke-width="1"/><circle cx="141" cy="307" r="4.3" fill="#ECEE2A" stroke="#DCD818" stroke-width="1"/><circle cx="146" cy="316" r="4.3" fill="#ECEE2A" stroke="#DCD818" stroke-width="1"/><circle cx="147" cy="324" r="4.3" fill="#ECEE2A" stroke="#DCD818" stroke-width="1"/><circle cx="151" cy="332" r="4.3" fill="#ECEE2A" stroke="#DCD818" stroke-width="1"/><circle cx="121" cy="288" r="4.3" fill="#ECEE2A" stroke="#DCD818" stroke-width="1"/><circle cx="126" cy="296" r="4.3" fill="#ECEE2A" stroke="#DCD818" stroke-width="1"/><circle cx="133" cy="303" r="4.3" fill="#ECEE2A" stroke="#DCD818" stroke-width="1"/><circle cx="171" cy="276" r="4.3" fill="#ECEE2A" stroke="#DCD818" stroke-width="1"/><circle cx="166" cy="284" r="4.3" fill="#ECEE2A" stroke="#DCD818" stroke-width="1"/><circle cx="200" cy="269" r="4.3" fill="#ECEE2A" stroke="#DCD818" stroke-width="1"/><circle cx="203" cy="261" r="4.3" fill="#ECEE2A" stroke="#DCD818" stroke-width="1"/><circle cx="209" cy="255" r="4.3" fill="#ECEE2A" stroke="#DCD818" stroke-width="1"/><circle cx="215" cy="250" r="4.3" fill="#ECEE2A" stroke="#DCD818" stroke-width="1"/><circle cx="411" cy="240" r="4.3" fill="#ECEE2A" stroke="#DCD818" stroke-width="1"/><circle cx="418" cy="245" r="4.3" fill="#ECEE2A" stroke="#DCD818" stroke-width="1"/><circle cx="425" cy="249" r="4.3" fill="#ECEE2A" stroke="#DCD818" stroke-width="1"/><circle cx="428" cy="255" r="4.3" fill="#ECEE2A" stroke="#DCD818" stroke-width="1"/><circle cx="429" cy="261" r="4.3" fill="#ECEE2A" stroke="#DCD818" stroke-width="1"/><circle cx="560" cy="294" r="4.3" fill="#ECEE2A" stroke="#DCD818" stroke-width="1"/><circle cx="566" cy="300" r="4.3" fill="#ECEE2A" stroke="#DCD818" stroke-width="1"/><circle cx="571" cy="305" r="4.3" fill="#ECEE2A" stroke="#DCD818" stroke-width="1"/><circle cx="577" cy="307" r="4.3" fill="#ECEE2A" stroke="#DCD818" stroke-width="1"/><circle cx="593" cy="299" r="4.3" fill="#ECEE2A" stroke="#DCD818" stroke-width="1"/><circle cx="587" cy="303" r="4.3" fill="#ECEE2A" stroke="#DCD818" stroke-width="1"/><circle cx="581" cy="307" r="4.3" fill="#ECEE2A" stroke="#DCD818" stroke-width="1"/><circle cx="575" cy="315" r="4.3" fill="#ECEE2A" stroke="#DCD818" stroke-width="1"/><circle cx="575" cy="322" r="4.3" fill="#ECEE2A" stroke="#DCD818" stroke-width="1"/><circle cx="576" cy="328" r="4.3" fill="#ECEE2A" stroke="#DCD818" stroke-width="1"/><circle cx="765" cy="275" r="4.3" fill="#ECEE2A" stroke="#DCD818" stroke-width="1"/><circle cx="757" cy="280" r="4.3" fill="#ECEE2A" stroke="#DCD818" stroke-width="1"/><circle cx="751" cy="286" r="4.3" fill="#ECEE2A" stroke="#DCD818" stroke-width="1"/><circle cx="747" cy="292" r="4.3" fill="#ECEE2A" stroke="#DCD818" stroke-width="1"/><circle cx="747" cy="302" r="4.3" fill="#ECEE2A" stroke="#DCD818" stroke-width="1"/><circle cx="836" cy="299" r="4.3" fill="#ECEE2A" stroke="#DCD818" stroke-width="1"/><circle cx="829" cy="304" r="4.3" fill="#ECEE2A" stroke="#DCD818" stroke-width="1"/><circle cx="822" cy="308" r="4.3" fill="#ECEE2A" stroke="#DCD818" stroke-width="1"/><circle cx="818" cy="313" r="4.3" fill="#ECEE2A" stroke="#DCD818" stroke-width="1"/><circle cx="820" cy="319" r="4.3" fill="#ECEE2A" stroke="#DCD818" stroke-width="1"/><circle cx="818" cy="326" r="4.3" fill="#ECEE2A" stroke="#DCD818" stroke-width="1"/><circle cx="877" cy="274" r="4.3" fill="#ECEE2A" stroke="#DCD818" stroke-width="1"/><circle cx="884" cy="279" r="4.3" fill="#ECEE2A" stroke="#DCD818" stroke-width="1"/><circle cx="890" cy="284" r="4.3" fill="#ECEE2A" stroke="#DCD818" stroke-width="1"/><circle cx="896" cy="288" r="4.3" fill="#ECEE2A" stroke="#DCD818" stroke-width="1"/><circle cx="893" cy="294" r="4.3" fill="#ECEE2A" stroke="#DCD818" stroke-width="1"/><circle cx="895" cy="301" r="4.3" fill="#ECEE2A" stroke="#DCD818" stroke-width="1"/><circle cx="895" cy="307" r="4.3" fill="#ECEE2A" stroke="#DCD818" stroke-width="1"/><circle cx="930" cy="283" r="4.3" fill="#ECEE2A" stroke="#DCD818" stroke-width="1"/><circle cx="933" cy="290" r="4.3" fill="#ECEE2A" stroke="#DCD818" stroke-width="1"/><circle cx="935" cy="297" r="4.3" fill="#ECEE2A" stroke="#DCD818" stroke-width="1"/><circle cx="940" cy="303" r="4.3" fill="#ECEE2A" stroke="#DCD818" stroke-width="1"/><circle cx="950" cy="303" r="4.3" fill="#ECEE2A" stroke="#DCD818" stroke-width="1"/><circle cx="956" cy="302" r="4.3" fill="#ECEE2A" stroke="#DCD818" stroke-width="1"/><circle cx="930" cy="307" r="4.3" fill="#ECEE2A" stroke="#DCD818" stroke-width="1"/><circle cx="925" cy="313" r="4.3" fill="#ECEE2A" stroke="#DCD818" stroke-width="1"/><circle cx="119" cy="465" r="4.3" fill="#ECEE2A" stroke="#DCD818" stroke-width="1"/><circle cx="126" cy="459" r="4.3" fill="#ECEE2A" stroke="#DCD818" stroke-width="1"/><circle cx="132" cy="452" r="4.3" fill="#ECEE2A" stroke="#DCD818" stroke-width="1"/><circle cx="139" cy="446" r="4.3" fill="#ECEE2A" stroke="#DCD818" stroke-width="1"/><circle cx="145" cy="452" r="4.3" fill="#ECEE2A" stroke="#DCD818" stroke-width="1"/><circle cx="150" cy="460" r="4.3" fill="#ECEE2A" stroke="#DCD818" stroke-width="1"/><circle cx="156" cy="466" r="4.3" fill="#ECEE2A" stroke="#DCD818" stroke-width="1"/><circle cx="850" cy="471" r="4.3" fill="#ECEE2A" stroke="#DCD818" stroke-width="1"/><circle cx="857" cy="465" r="4.3" fill="#ECEE2A" stroke="#DCD818" stroke-width="1"/><circle cx="864" cy="459" r="4.3" fill="#ECEE2A" stroke="#DCD818" stroke-width="1"/><circle cx="869" cy="452" r="4.3" fill="#ECEE2A" stroke="#DCD818" stroke-width="1"/><circle cx="875" cy="459" r="4.3" fill="#ECEE2A" stroke="#DCD818" stroke-width="1"/><circle cx="880" cy="466" r="4.3" fill="#ECEE2A" stroke="#DCD818" stroke-width="1"/><circle cx="887" cy="472" r="4.3" fill="#ECEE2A" stroke="#DCD818" stroke-width="1"/><circle cx="89" cy="356" r="5.5" fill="#FFDE10" stroke="#F0A810" stroke-width="1.2"/><circle cx="92" cy="367" r="5.5" fill="#FFDE10" stroke="#F0A810" stroke-width="1.2"/><circle cx="83" cy="375" r="5.5" fill="#FFDE10" stroke="#F0A810" stroke-width="1.2"/><circle cx="85" cy="387" r="5.5" fill="#FFDE10" stroke="#F0A810" stroke-width="1.2"/><circle cx="376" cy="331" r="5.5" fill="#FFDE10" stroke="#F0A810" stroke-width="1.2"/><circle cx="377" cy="344" r="5.5" fill="#FFDE10" stroke="#F0A810" stroke-width="1.2"/><circle cx="366" cy="348" r="5.5" fill="#FFDE10" stroke="#F0A810" stroke-width="1.2"/><circle cx="366" cy="360" r="5.5" fill="#FFDE10" stroke="#F0A810" stroke-width="1.2"/><circle cx="501" cy="379" r="5.5" fill="#FFDE10" stroke="#F0A810" stroke-width="1.2"/><circle cx="501" cy="391" r="5.5" fill="#FFDE10" stroke="#F0A810" stroke-width="1.2"/><circle cx="491" cy="396" r="5.5" fill="#FFDE10" stroke="#F0A810" stroke-width="1.2"/><circle cx="491" cy="408" r="5.5" fill="#FFDE10" stroke="#F0A810" stroke-width="1.2"/><circle cx="582" cy="372" r="5.5" fill="#FFDE10" stroke="#F0A810" stroke-width="1.2"/><circle cx="583" cy="384" r="5.5" fill="#FFDE10" stroke="#F0A810" stroke-width="1.2"/><circle cx="572" cy="390" r="5.5" fill="#FFDE10" stroke="#F0A810" stroke-width="1.2"/><circle cx="572" cy="401" r="5.5" fill="#FFDE10" stroke="#F0A810" stroke-width="1.2"/><circle cx="717" cy="401" r="5.5" fill="#FFDE10" stroke="#F0A810" stroke-width="1.2"/><circle cx="717" cy="414" r="5.5" fill="#FFDE10" stroke="#F0A810" stroke-width="1.2"/><circle cx="707" cy="419" r="5.5" fill="#FFDE10" stroke="#F0A810" stroke-width="1.2"/><circle cx="708" cy="430" r="5.5" fill="#FFDE10" stroke="#F0A810" stroke-width="1.2"/><circle cx="846" cy="359" r="5.5" fill="#FFDE10" stroke="#F0A810" stroke-width="1.2"/><circle cx="848" cy="370" r="5.5" fill="#FFDE10" stroke="#F0A810" stroke-width="1.2"/><circle cx="837" cy="375" r="5.5" fill="#FFDE10" stroke="#F0A810" stroke-width="1.2"/><circle cx="838" cy="388" r="5.5" fill="#FFDE10" stroke="#F0A810" stroke-width="1.2"/><line x1="135" y1="230" x2="92.4" y2="306.1" stroke="#1A1A1A" stroke-width="1.6"/><path d="M88,314 L89.3,304.4 L95.4,307.9 Z" fill="#1A1A1A"/><line x1="347" y1="230" x2="318.5" y2="256.8" stroke="#1A1A1A" stroke-width="1.6"/><path d="M312,263 L316.1,254.3 L320.9,259.4 Z" fill="#1A1A1A"/><line x1="968" y1="230" x2="903.5" y2="343.2" stroke="#1A1A1A" stroke-width="1.6"/><path d="M899,351 L900.4,341.4 L906.5,344.9 Z" fill="#1A1A1A"/><line x1="16" y1="484" x2="77.2" y2="386.6" stroke="#1A1A1A" stroke-width="1.6"/><path d="M82,379 L80.2,388.5 L74.2,384.8 Z" fill="#1A1A1A"/><line x1="49" y1="532" x2="108.3" y2="478.1" stroke="#1A1A1A" stroke-width="1.6"/><path d="M115,472 L110.7,480.6 L106.0,475.5 Z" fill="#1A1A1A"/><line x1="156" y1="579" x2="215.6" y2="472.8" stroke="#1A1A1A" stroke-width="1.6"/><path d="M220,465 L218.6,474.6 L212.5,471.1 Z" fill="#1A1A1A"/><line x1="422" y1="502" x2="443.8" y2="460.0" stroke="#1A1A1A" stroke-width="1.6"/><path d="M448,452 L447.0,461.6 L440.7,458.4 Z" fill="#1A1A1A"/><line x1="551" y1="535" x2="591.6" y2="481.2" stroke="#1A1A1A" stroke-width="1.6"/><path d="M597,474 L594.4,483.3 L588.8,479.1 Z" fill="#1A1A1A"/><line x1="631" y1="615" x2="748.8" y2="449.3" stroke="#1A1A1A" stroke-width="1.6"/><path d="M754,442 L751.6,451.4 L745.9,447.3 Z" fill="#1A1A1A"/><line x1="790" y1="564" x2="858.3" y2="413.2" stroke="#1A1A1A" stroke-width="1.6"/><path d="M862,405 L861.5,414.6 L855.1,411.8 Z" fill="#1A1A1A"/><path d="M839,235 L834,228 L844,228 Z" fill="#1A1A1A"/><path d="M957,290.5 H973.5 V454 H956 M973.5,371 H983" stroke="#222" stroke-width="1.6" fill="none"/><rect x="905.5" y="386" width="50.5" height="88" stroke="#222" stroke-width="1.6" fill="none"/><line x1="929" y1="474" x2="939" y2="490" stroke="#222" stroke-width="1.6"/>
<g font-family="Liberation Sans, sans-serif" font-size="23.3" fill="#231F20"><text x="-1.5" y="506" text-anchor="start">rol</text><text x="-1.5" y="552" text-anchor="start">olipid</text><text x="26.5" y="599" text-anchor="start">Peripherial protein</text><text x="260.5" y="518" text-anchor="start">Integral protein</text><text x="260.5" y="542" text-anchor="start">(globular protein)</text><text x="471" y="565" text-anchor="start">Surface protein</text><text x="597.5" y="636" text-anchor="middle">Alpha-Helix protein</text><text x="597.5" y="659" text-anchor="middle">(integral protein)</text><text x="454" y="706" text-anchor="start">Cytoplasm</text><text x="728" y="592" text-anchor="start">Hydrophobic tails</text><text x="986.5" y="363" text-anchor="start">Pho</text><text x="986.5" y="387" text-anchor="start">bila</text><text x="938.5" y="511" text-anchor="start">Phospho</text><text x="938.5" y="534" text-anchor="start">molecule</text></g>
</svg>
<div id="hdr"></div>
<svg width="1024" height="230" viewBox="0 0 1024 230"><g font-family="Liberation Sans, sans-serif" font-size="84" fill="#060606" stroke="#060606" stroke-width="3"><text transform="translate(202.74,150) scale(0.982,1)" x="0" y="0">c</text><text transform="translate(247.95,150) scale(1.024,1)" x="0" y="0">e</text><text transform="translate(373.90,150) scale(1.026,1)" x="0" y="0">m</text><text transform="translate(448.95,150) scale(1.024,1)" x="0" y="0">e</text><text transform="translate(498.87,150) scale(1.033,1)" x="0" y="0">m</text><text transform="translate(574.50,150) scale(1.125,1)" x="0" y="0">b</text><text transform="translate(628.96,150) scale(1.261,1)" x="0" y="0">r</text><text transform="translate(668.87,150) scale(1.067,1)" x="0" y="0">a</text><text transform="translate(722.00,150) scale(1.000,1)" x="0" y="0">n</text><text transform="translate(774.95,150) scale(1.024,1)" x="0" y="0">e</text></g><g fill="#060606"><rect x="303" y="72.5" width="12" height="78"/><rect x="325" y="72.5" width="12" height="78"/><rect x="579.2" y="72.5" width="10.6" height="30"/></g></svg>
<div id="bar"></div><div id="blk"></div>
</body></html>
